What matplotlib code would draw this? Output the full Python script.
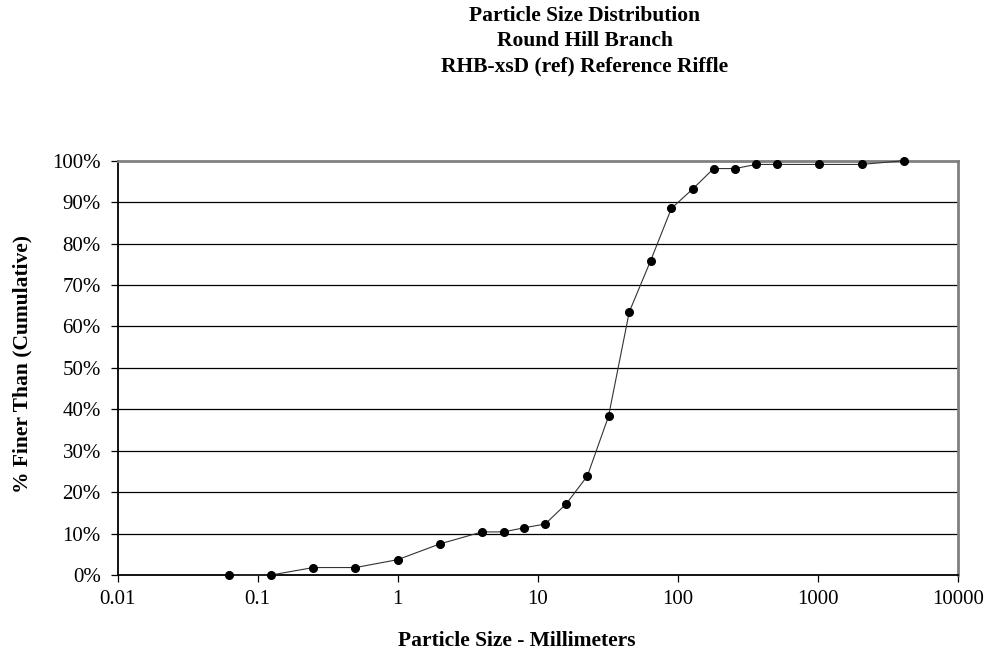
import matplotlib
matplotlib.use("Agg")
import matplotlib.pyplot as plt
from matplotlib.ticker import FixedLocator, NullLocator, FuncFormatter

# Data
particle_size_mm = [0.062, 0.125, 0.25, 0.5, 1, 2, 4, 5.7, 8, 11.3, 16, 22.6, 32, 45,
                    64, 90, 128, 180, 256, 362, 512, 1024, 2048, 4096]
percent_finer = [0, 0, 1.8, 1.8, 3.7, 7.5, 10.4, 10.4, 11.4, 12.3, 17.2, 23.9, 38.3, 63.5,
                 75.9, 88.5, 93.2, 98.1, 98.1, 99.1, 99.1, 99.1, 99.1, 100]
x_ticks = [0.01, 0.1, 1, 10, 100, 1000, 10000]
x_tick_labels = ["0.01", "0.1", "1", "10", "100", "1000", "10000"]
y_ticks = [0, 10, 20, 30, 40, 50, 60, 70, 80, 90, 100]
title_lines = ["Particle Size Distribution", "Round Hill Branch", "RHB-xsD (ref) Reference Riffle"]

plt.rcParams['font.family'] = ['Liberation Serif', 'DejaVu Serif']

fig = plt.figure(figsize=(9.92, 6.53), dpi=100)
ax = fig.add_axes([117.5/992, (653-575)/653, (958-117.5)/992, (575-160.7)/653])

ax.set_xscale('log')
ax.set_xlim(0.01, 10000)
ax.set_ylim(0, 100)

for y in y_ticks[1:-1]:
    ax.axhline(y, color='black', linewidth=0.9, zorder=1)

ax.plot(particle_size_mm, percent_finer, color='#333333', linewidth=0.8,
        marker='o', markersize=5.5, markerfacecolor='black', markeredgecolor='black',
        zorder=3, clip_on=False)

ax.xaxis.set_major_locator(FixedLocator(x_ticks))
ax.xaxis.set_minor_locator(NullLocator())
ax.set_xticklabels(x_tick_labels)
ax.yaxis.set_major_locator(FixedLocator(y_ticks))
ax.yaxis.set_major_formatter(FuncFormatter(lambda v, p: f"{int(round(v))}%"))

ax.tick_params(axis='both', direction='out', length=5, width=0.9, color='black',
               labelsize=15)
ax.tick_params(axis='x', pad=6)
ax.tick_params(axis='y', pad=7)

for side in ['left', 'bottom']:
    ax.spines[side].set_color('black')
    ax.spines[side].set_linewidth(1.3)
for side in ['top', 'right']:
    ax.spines[side].set_color('#808080')
    ax.spines[side].set_linewidth(2.0)

fig.text(517/992, 1 - 641/653, "Particle Size - Millimeters", ha='center', va='center',
         fontsize=15.5, fontweight='bold')
fig.text(22/992, 1 - 364/653, "% Finer Than (Cumulative)", ha='center', va='center',
         rotation=90, fontsize=15.5, fontweight='bold')

for i, line in enumerate(title_lines):
    fig.text(585/992, 1 - (16 + 25*i)/653, line, ha='center', va='center',
             fontsize=15.5, fontweight='bold')

fig.savefig("out.png", dpi=100)
